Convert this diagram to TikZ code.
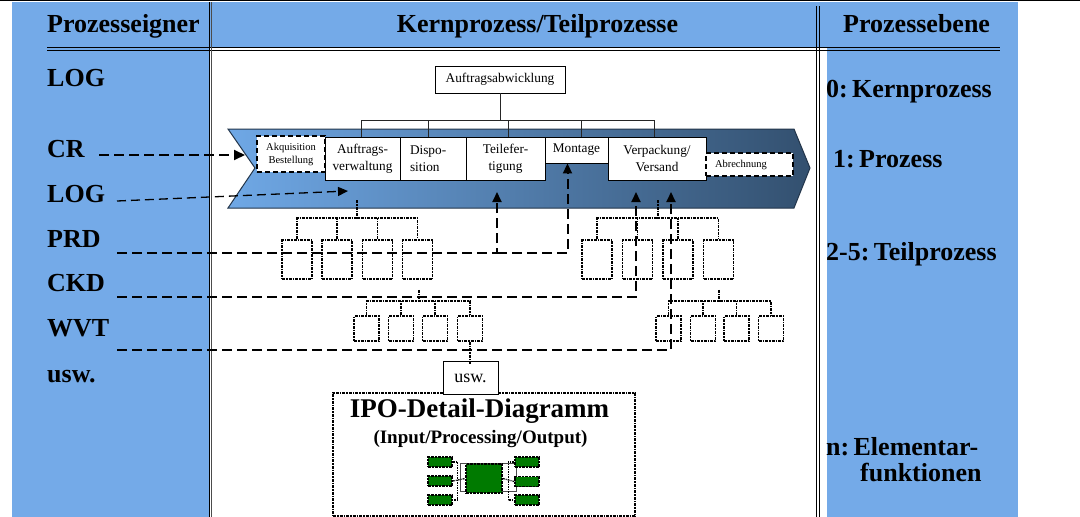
\documentclass[tikz,border=0pt]{standalone}
\usepackage{fontspec}
\setmainfont{Liberation Serif}
\usetikzlibrary{arrows.meta,calc}
\definecolor{panelblue}{HTML}{74AAE8}
\definecolor{chevlight}{HTML}{6FA8E6}
\definecolor{chevdark}{HTML}{33506F}
\definecolor{chevedge}{HTML}{23354A}
\definecolor{ipogreen}{HTML}{007A00}
\tikzset{
  lbl/.style={font=\fontsize{26}{28}\selectfont\bfseries, inner sep=0pt, anchor=base west},
  pbox/.style={draw=black, fill=white, line width=0.9pt, inner sep=0pt,
    font=\fontsize{13.3}{16.5}\selectfont, align=center},
  optbox/.style={pbox, line width=2pt, dash pattern=on 5pt off 3pt,
    font=\fontsize{10.5}{13}\selectfont},
  treeline/.style={draw=black!85, line width=0.9pt},
  treedot/.style={line width=1.7pt, dash pattern=on 3pt off 1pt on 1.5pt off 1pt},
  subbox/.style={draw, treedot, inner sep=0pt},
  minidot/.style={line width=1.2pt, dash pattern=on 2pt off 1pt on 1pt off 1pt},
  owner/.style={line width=2pt, dash pattern=on 10pt off 5pt},
  tip/.style={-{Triangle[length=11pt,width=10pt]}},
  vtip/.style={-{Triangle[length=10pt,width=9pt]}},
  gbox/.style={draw, fill=ipogreen, line width=1.5pt, dash pattern=on 2.5pt off 1pt,
    inner sep=0pt, minimum width=24pt, minimum height=10pt},
}
\begin{document}
\begin{tikzpicture}[x=1pt,y=-1pt]
\useasboundingbox (0,0) rectangle (1080,517);

% background panels and rules
\fill[panelblue] (12,2) rectangle (1018,48);
\fill[panelblue] (12,48) rectangle (209,517);
\fill[panelblue] (827,48) rectangle (1018,517);
\draw[line width=1.2pt] (0,0.8) -- (1080,0.8);
\draw[line width=0.9pt] (47,47.3) -- (1000,47.3) (47,50) -- (1000,50);
\draw[line width=1pt] (209,2) -- (209,517);
\draw[line width=0.8pt, black!70] (211.5,2) -- (211.5,517);
\draw[line width=0.9pt] (816.8,6) -- (816.8,517) (819.2,6) -- (819.2,517);

% column headings
\node[lbl] (hOwner) at (47,32) {Prozesseigner};
\node[lbl, anchor=base] (hCore) at (537.5,32) {Kernprozess/Teilprozesse};
\node[lbl] (hLevel) at (843,32) {Prozessebene};

% process owners
\node[lbl] (oLOG) at (47,86) {LOG};
\node[lbl] (oCR) at (47,157) {CR};
\node[lbl] (oLOGb) at (47,202) {LOG};
\node[lbl] (oPRD) at (47,247) {PRD};
\node[lbl] (oCKD) at (47,291) {CKD};
\node[lbl] (oWVT) at (47,336) {WVT};
\node[lbl] (oUSW) at (47,382) {usw.};

% process levels
\node[lbl] (lv0) at (826,97) {0:\,Kernprozess};
\node[lbl] (lv1) at (833,167) {1:\,Prozess};
\node[lbl] (lv2) at (826,260) {2-5:\,Teilprozess};
\node[lbl] (lvn) at (826,455) {n:\,Elementar-};
\node[lbl] (lvnb) at (860,481) {funktionen};

% core process chevron
\shade[left color=chevlight, right color=chevdark]
  (228,129) -- (794,129) -- (810,168) -- (794,208) -- (228,208) -- (255,168) -- cycle;
\draw[chevedge, line width=1pt]
  (228,129) -- (794,129) -- (810,168) -- (794,208) -- (228,208) -- (255,168) -- cycle;

% core process and its processes
\node[pbox, minimum width=130pt, minimum height=27pt] (top) at (500,79.5) {Auftragsabwicklung};
\node[optbox, minimum width=68pt, minimum height=36pt] (akq) at (291,154) {Akquisition\\Bestellung};
\node[pbox, minimum width=75pt, minimum height=43pt] (auf) at (362.5,158.5) {Auftrags-\\verwaltung};
\node[pbox, minimum width=66pt, minimum height=43pt, text width=46pt, inner xsep=10pt, align=left] (dis) at (433,158.5) {Dispo-\\sition};
\node[pbox, minimum width=79pt, minimum height=43pt] (tei) at (505.5,158.5) {Teilefer-\\tigung};
\node[pbox, minimum width=63pt, minimum height=26pt] (mon) at (576.5,150) {Montage};
\node[pbox, minimum width=98pt, minimum height=43pt] (ver) at (657,158.5) {Verpackung/\\Versand};
\node[optbox, minimum width=87pt, minimum height=23pt, text width=69pt, inner xsep=9pt, align=left] (abr) at (749.5,164.5) {Abrechnung};

\draw[treeline] (top.south) -- ++(0,28);
\draw[treeline] ([xshift=-1.5pt]auf.north) -- ++(0,-16) -| ([xshift=-3pt]ver.north);
\draw[treeline] ([xshift=-5pt]dis.north) -- ++(0,-16);
\draw[treeline] ([xshift=2.5pt]tei.north) -- ++(0,-16);
\draw[treeline] ([xshift=4.5pt]mon.north) -- ++(0,-16);

% second level sub-processes
\foreach \n/\x in {l2a/297, l2b/337, l2c/377.5, l2d/417.5, r2a/597, r2b/637.5, r2c/678, r2d/718.5}
  \node[subbox, minimum width=30pt, minimum height=39pt] (\n) at (\x,259.5) {};
\coordinate (lroot) at (357,200);
\coordinate (rroot) at (658,200);
\draw[treedot] (lroot) -- ++(0,19);
\draw[treedot] (l2a.north) -- ++(0,-21) -| (l2d.north);
\draw[treedot] (l2b.north) -- ++(0,-21);
\draw[treedot] (l2c.north) -- ++(0,-21);
\draw[treedot] (rroot) -- ++(0,19);
\draw[treedot] (r2a.north) -- ++(0,-21) -| (r2d.north);
\draw[treedot] (r2b.north) -- ++(0,-21);
\draw[treedot] (r2c.north) -- ++(0,-21);

% third level sub-processes
\foreach \n/\x in {l3a/366.5, l3b/401, l3c/435, l3d/470, r3a/668.5, r3b/703, r3c/736.5, r3d/771}
  \node[subbox, minimum width=25pt, minimum height=25pt] (\n) at (\x,328.5) {};
\coordinate (lsub) at ($(l2d.south)+(1.5,10)$);
\coordinate (rsub) at ($(r2d.south)+(0.5,10)$);
\draw[treedot] (lsub) -- ++(0,13);
\draw[treedot] (l3a.north) -- ++(0,-14) -| (l3d.north);
\draw[treedot] (l3b.north) -- ++(0,-14);
\draw[treedot] (l3c.north) -- ++(0,-14);
\draw[treedot] (rsub) -- ++(0,13);
\draw[treedot] (r3a.north) -- ++(0,-14) -| (r3d.north);
\draw[treedot] (r3b.north) -- ++(0,-14);
\draw[treedot] (r3c.north) -- ++(0,-14);

% IPO detail diagram
\node[subbox, minimum width=302pt, minimum height=123pt] (ipo) at (484,454.5) {};
\node[pbox, minimum width=55pt, minimum height=33pt, font=\fontsize{18}{20}\selectfont] (usw) at (470.5,378) {usw.};
\draw[treedot] (l3d.south) -- ($(l3d.south |- usw.north)+(0,4)$);
\node[font=\fontsize{27}{30}\selectfont\bfseries, inner sep=0pt, anchor=base] (ipot) at (479.5,417) {IPO-Detail-Diagramm};
\node[font=\fontsize{19}{22}\selectfont\bfseries, inner sep=0pt, anchor=base] (ipos) at (480.5,443) {(Input/Processing/Output)};

\node[gbox] (gi1) at (440,462) {};
\node[gbox] (gi2) at (440,481) {};
\node[gbox] (gi3) at (440,500) {};
\node[draw=black!70, line width=0.9pt, minimum width=56pt, minimum height=28pt, inner sep=0pt] (gframe) at (488,477) {};
\node[gbox, minimum width=36pt, minimum height=29pt] (gcore) at (484,478.5) {};
\node[gbox] (go1) at (527,462) {};
\node[gbox] (go2) at (527,481.5) {};
\node[gbox] (go3) at (527,500) {};
\draw[minidot] (gi1.east) -| ($(gi3.east)+(5,0)$) -- (gi3.east);
\draw[minidot] (gi2.east) -- (gcore.west);
\draw[minidot] (go1.west) -| ($(go3.west)+(-6,0)$) -- (go3.west);
\draw[minidot] (gcore.east) -- (go2.west);

% owner assignments
\coordinate (sCR) at (99,155);
\coordinate (tCR) at (245,155);
\draw[owner, tip] (sCR) -- (tCR);
\coordinate (sLOG) at (117,201);
\coordinate (tLOG) at (348,191);
\draw[line width=1.3pt, dash pattern=on 9pt off 5pt, vtip] (sLOG) -- (tLOG);
\coordinate (sPRD) at (117,253);
\coordinate (tTei) at (497,192);
\coordinate (jPRD) at (497,253);
\draw[owner, vtip] (sPRD) -| (tTei);
\draw[owner, vtip] (jPRD) -| ([xshift=-9pt]mon.south);
\coordinate (sCKD) at (117,297);
\coordinate (tVer) at (636,192);
\draw[owner, vtip] (sCKD) -| (tVer);
\coordinate (sWVT) at (117,350);
\coordinate (tVerb) at (671,192);
\draw[owner, vtip] (sWVT) -| (tVerb);
\end{tikzpicture}
\end{document}
